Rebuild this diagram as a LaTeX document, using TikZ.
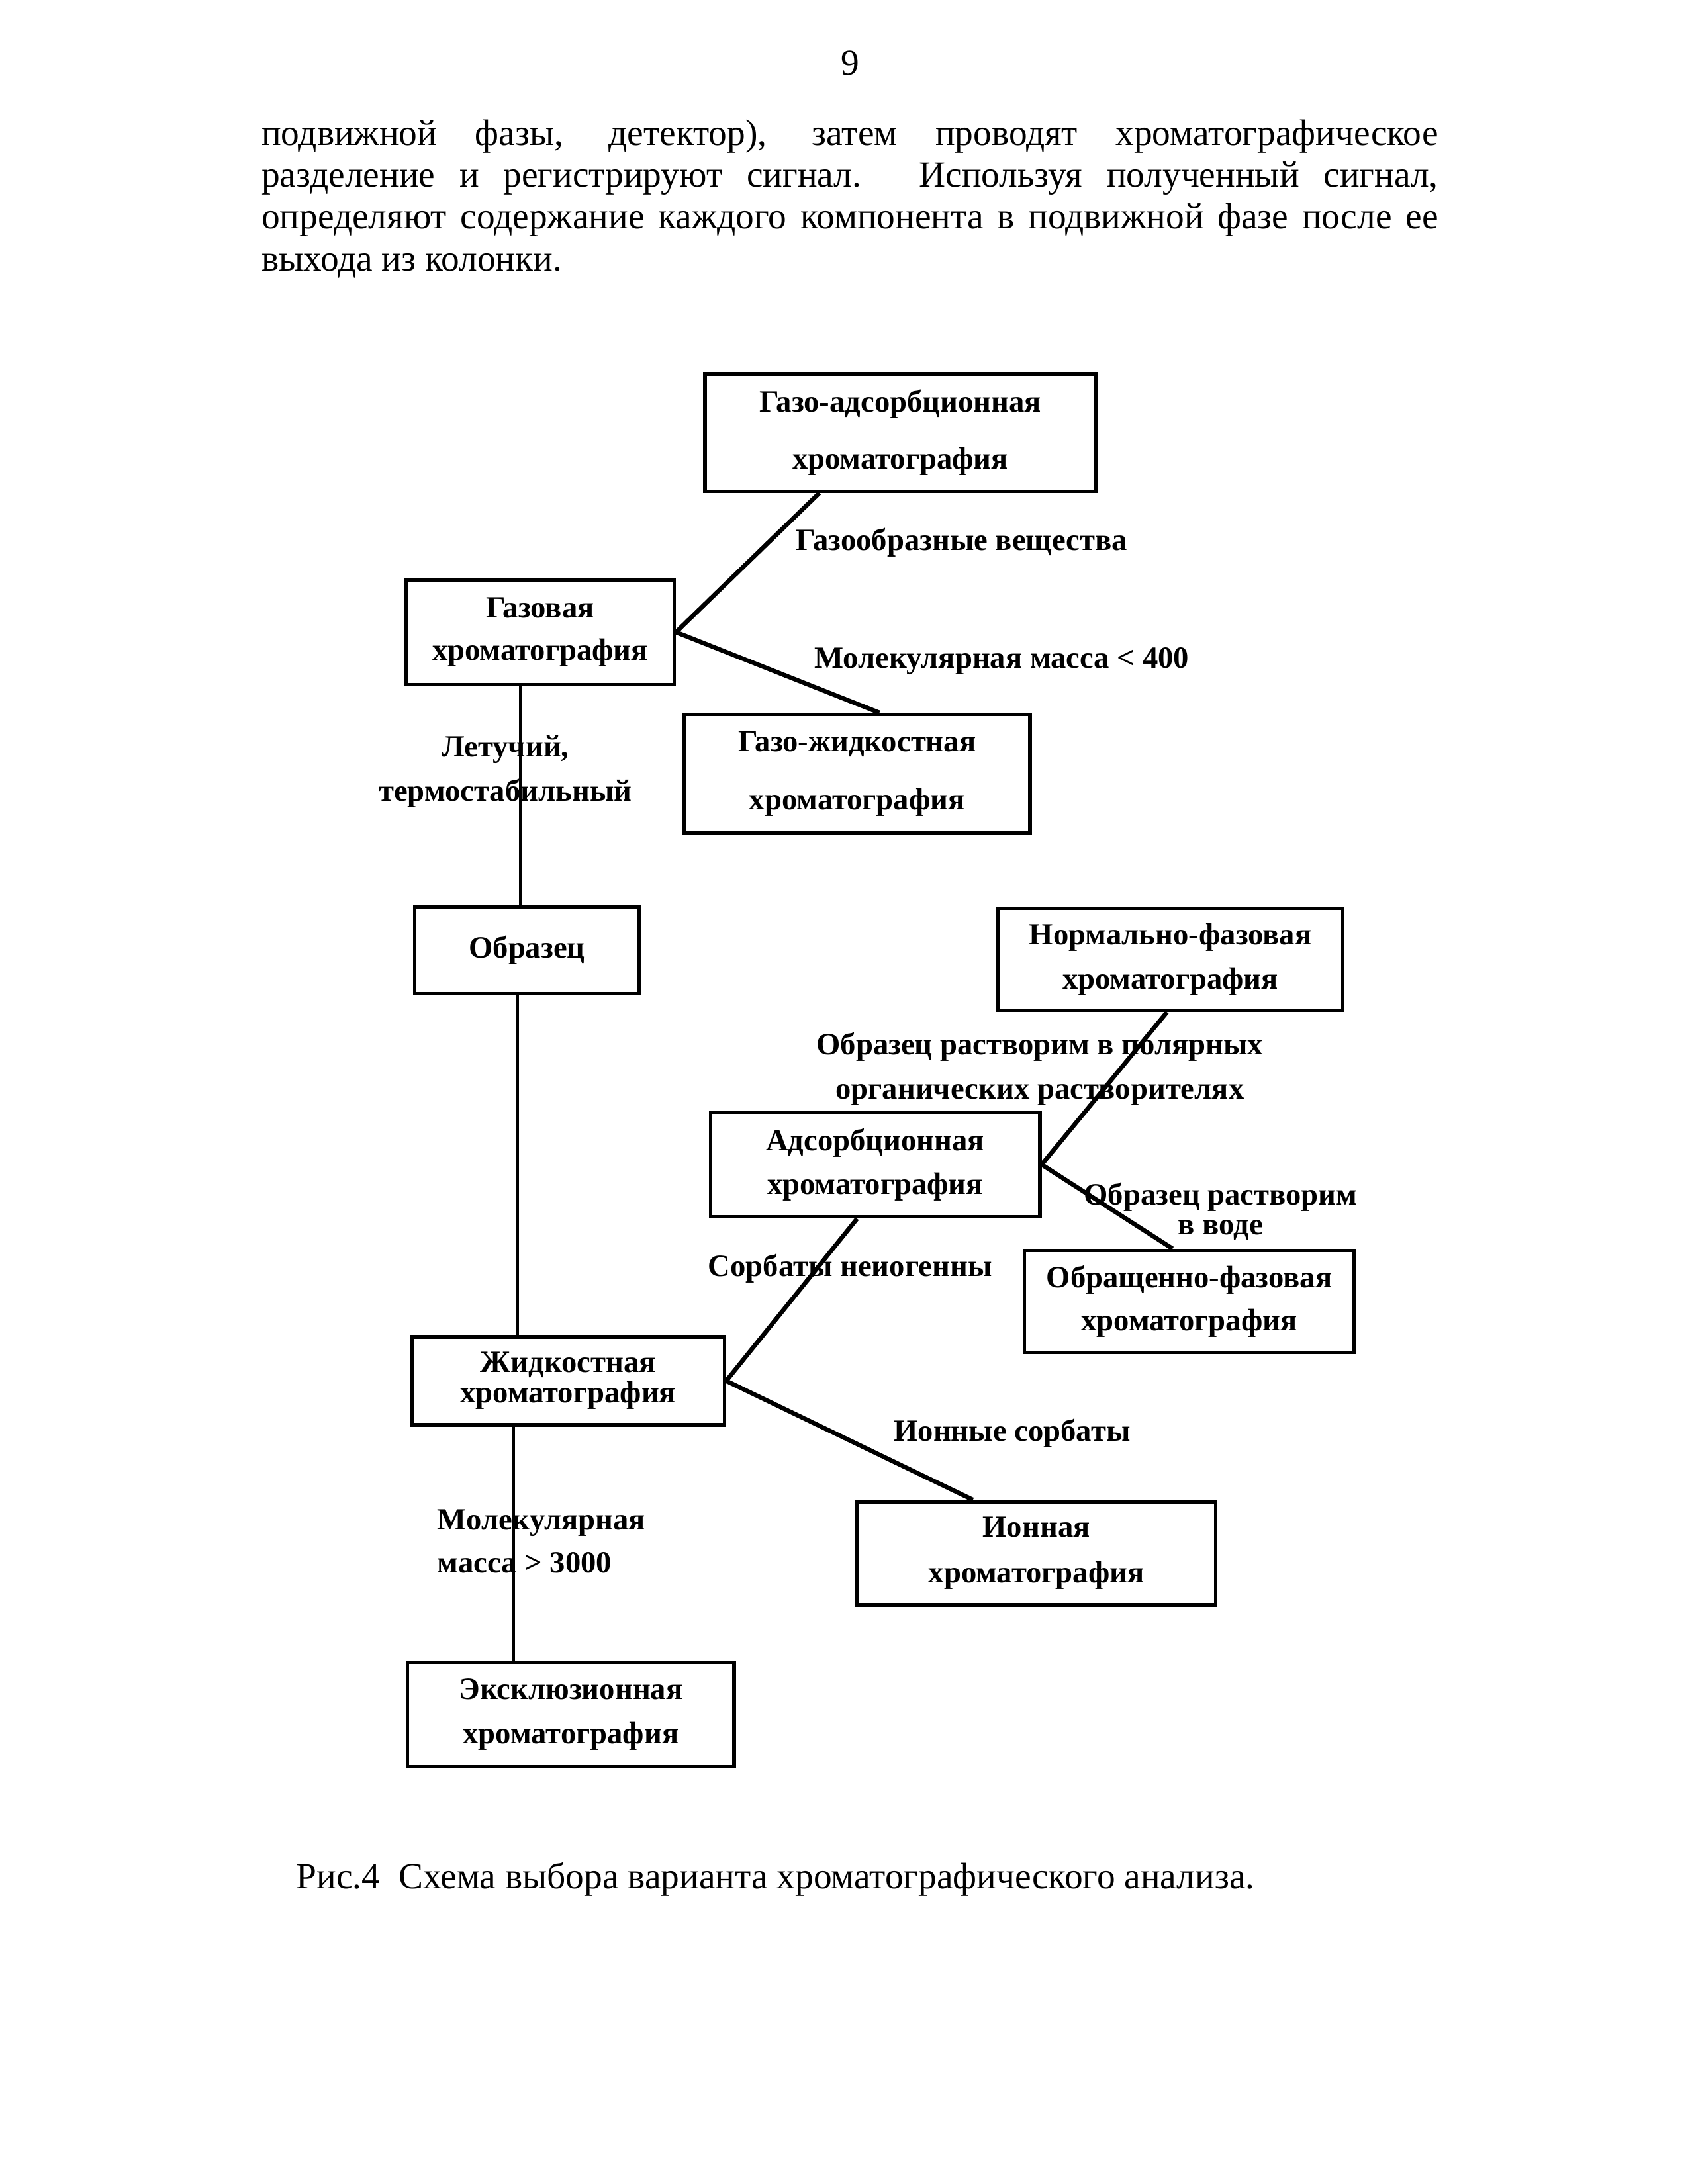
\documentclass[tikz,border=0pt]{standalone}
\usepackage{fontspec}
\setmainfont{Liberation Serif}
\usetikzlibrary{calc}
\newlength\ux
\setlength\ux{0.5061pt}
\newcommand\lblfont{\fontsize{11.2}{13}\selectfont\bfseries}
\newcommand\bodyfont{\fontsize{13.3}{15}\selectfont}
\begin{document}
\begin{tikzpicture}[x=\ux,y=-\ux,
  box/.style={draw, line width=1.3pt, inner sep=0pt, align=center, font=\lblfont},
  lbl/.style={inner sep=0pt, font=\lblfont},
  conn/.style={line width=1.6pt},
  vline/.style={line width=1pt},
  bodyline/.style={inner sep=0pt, font=\bodyfont, anchor=base west}]
\useasboundingbox (0,0) rectangle (1209.3,1565);
% page text
\node[inner sep=0pt, font=\bodyfont, anchor=base] (pnum) at (609,54) {9};
\node[bodyline] (t1) at (187,104) {\makebox[843\ux][s]{подвижной фазы, детектор), затем проводят хроматографическое}};
\node[bodyline] (t2) at (187,134) {\makebox[843\ux][s]{разделение и регистрируют сигнал. Используя полученный сигнал,}};
\node[bodyline] (t3) at (187,164) {\makebox[843\ux][s]{определяют содержание каждого компонента в подвижной фазе после ее}};
\node[bodyline] (t4) at (187,194) {выхода из колонки.};
% boxes
\node[box, minimum width=280\ux, minimum height=84\ux] (ga) at (645,310) {Газо-адсорбционная\\[7.5pt]хроматография};
\node[box, minimum width=192\ux, minimum height=75\ux] (gas) at (387,453) {Газовая\\[2.5pt]хроматография};
\node[box, minimum width=248\ux, minimum height=85\ux] (gl) at (614,554.5) {Газо-жидкостная\\[8pt]хроматография};
\node[box, minimum width=161\ux, minimum height=62\ux] (obr) at (377.5,681) {Образец};
\node[box, minimum width=247\ux, minimum height=73\ux] (nf) at (838.5,687.5) {Нормально-фазовая\\[3pt]хроматография};
\node[box, minimum width=236\ux, minimum height=75\ux] (ads) at (627,834.5) {Адсорбционная\\[3pt]хроматография};
\node[box, minimum width=236\ux, minimum height=73\ux] (of) at (852,932.5) {Обращенно-фазовая\\[2.5pt]хроматография};
\node[box, minimum width=224\ux, minimum height=63\ux] (liq) at (407,989.5) {Жидкостная\\[-2pt]хроматография};
\node[box, minimum width=257\ux, minimum height=74\ux] (ion) at (742.5,1113) {Ионная\\[3.5pt]хроматография};
\node[box, minimum width=234\ux, minimum height=75\ux] (exc) at (409,1228.5) {Эксклюзионная\\[3pt]хроматография};
% connectors
\coordinate (v1) at (373,0);
\coordinate (v2) at (371,0);
\coordinate (v3) at (368,0);
\draw[conn] (gas.east) -- ($(ga.south)+(-58,0)$);
\draw[conn] (gas.east) -- ($(gl.north)+(16,0)$);
\draw[vline] (gas.south -| v1) -- (obr.north -| v1);
\draw[vline] (obr.south -| v2) -- (liq.north -| v2);
\draw[conn] (liq.east) -- ($(ads.south)+(-13,0)$);
\draw[conn] (liq.east) -- ($(ion.north)+(-45.5,0)$);
\draw[vline] (liq.south -| v3) -- (exc.north -| v3);
\draw[conn] (ads.east) -- ($(nf.south)+(-2.5,0)$);
\draw[conn] (ads.east) -- ($(of.north)+(-12,0)$);
% labels
\node[lbl, anchor=west] (l1) at (570,389) {Газообразные вещества};
\node[lbl, anchor=west] (l2) at (583,474) {Молекулярная масса < 400};
\node[lbl, align=center] (l3) at (362,553) {Летучий,\\[3pt]термостабильный};
\node[lbl, align=center] (l4) at (745,766) {Образец растворим в полярных\\[3pt]органических растворителях};
\node[lbl, align=center] (l5) at (874.5,868) {Образец растворим\\[-2pt]в воде};
\node[lbl, anchor=west] (l6) at (507,909) {Сорбаты неиогенны};
\node[lbl, anchor=west] (l7) at (640,1027) {Ионные сорбаты};
\node[lbl, align=left, anchor=west] (l8) at (313,1104.5) {Молекулярная\\[2.5pt]масса > 3000};
% caption
\node[bodyline] (cap) at (212,1353) {Рис.4\ \ Схема выбора варианта хроматографического анализа.};
\end{tikzpicture}
\end{document}
